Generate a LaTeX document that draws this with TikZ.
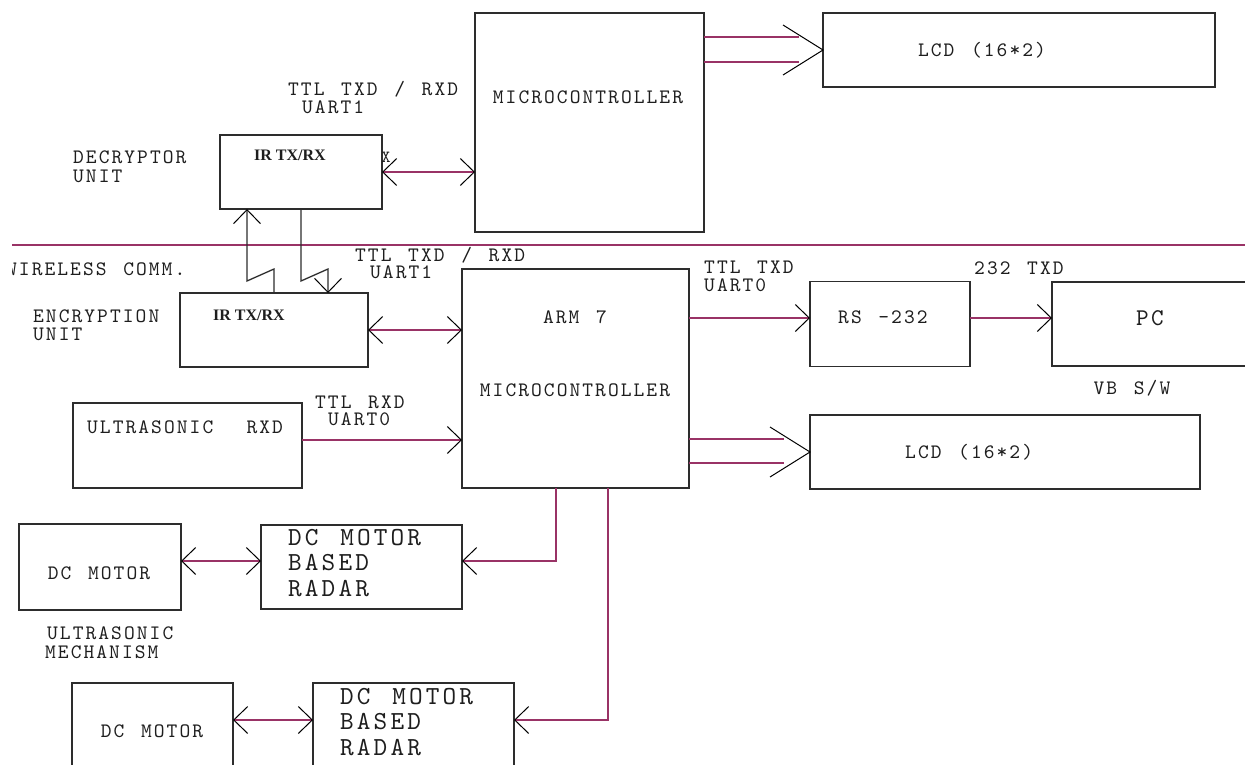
\documentclass[tikz,border=0pt]{standalone}
\usepackage{fontspec}
\usetikzlibrary{arrows.meta,calc}
\newfontfamily\cf{lmmono10-regular.otf}[LetterSpace=10,WordSpace=1.3]
\newfontfamily\cfr{lmmono10-regular.otf}[LetterSpace=12,WordSpace=1.3]
\newfontfamily\irf{Liberation Serif}
\definecolor{wirec}{RGB}{153,51,102}
\definecolor{boxc}{RGB}{45,45,45}
\definecolor{txtc}{RGB}{30,30,30}
\tikzset{
  box/.style={draw=boxc, line width=1.4pt, outer sep=0pt, inner sep=0pt, rectangle},
  txt/.style={font=\fontsize{20.5}{20.5}\cf, text=txtc, inner sep=0pt, text height=12.5pt, text depth=0pt},
  rtxt/.style={font=\fontsize{26}{25.5}\cfr, text=txtc, inner sep=0pt, align=left},
  irt/.style={font=\fontsize{16}{16}\irf\bfseries, text=txtc, inner sep=0pt},
  wire/.style={draw=wirec, line width=1.3pt},
  lead/.style={draw=boxc, line width=1.3pt},
  headline/.style={draw=black, line width=1pt},
  >={Straight Barb[length=14pt,width=27pt,color=black,line width=1pt]},
}
\begin{document}
\begin{tikzpicture}[x=1pt,y=-1pt]
\useasboundingbox (0,0) rectangle (1245,765);
% boxes
\node[box,minimum width=229pt,minimum height=219pt] (mc) at (589.5,122.5) {};
\node[box,minimum width=392pt,minimum height=74pt] (lcdA) at (1019,50) {};
\node[box,minimum width=162pt,minimum height=74pt] (dec) at (301,172) {};
\node[box,minimum width=188pt,minimum height=74pt] (enc) at (274,330) {};
\node[box,minimum width=227pt,minimum height=219pt] (arm) at (575.5,378.5) {};
\node[box,minimum width=229pt,minimum height=85pt] (us) at (187.5,445.5) {};
\node[box,minimum width=160pt,minimum height=85pt] (rs) at (890,324) {};
\node[box,minimum width=208pt,minimum height=84pt] (pc) at (1156,324) {};
\node[box,minimum width=390pt,minimum height=74pt] (lcdB) at (1005,452) {};
\node[box,minimum width=162pt,minimum height=86pt] (dcA) at (100,567) {};
\node[box,minimum width=201pt,minimum height=84pt] (radA) at (361.5,567) {};
\node[box,minimum width=161pt,minimum height=86pt] (dcB) at (152.5,726) {};
\node[box,minimum width=201pt,minimum height=86pt] (radB) at (413.5,726) {};
% separator
\coordinate (sepL) at (12,245);
\coordinate (sepR) at (1245,245);
\draw[wire] (sepL) -- (sepR);
% top microcontroller to LCD
\draw[wire] ([yshift=85.5pt]mc.east) -- ++(95,0);
\draw[wire] ([yshift=60.5pt]mc.east) -- ++(95,0);
\draw[headline] ([shift={(-40pt,25pt)}]lcdA.west) -- (lcdA.west) -- ([shift={(-40pt,-25pt)}]lcdA.west);
% decryptor <-> microcontroller
\draw[wire,<->] (dec.east) -- (dec.east -| mc.west);
% IR links
\draw[lead,->] ([xshift=94pt]enc.north west) -- ++(0,-24) -- ++(-27,12) -- ([xshift=27pt]dec.south west);
\draw[lead,->] ([xshift=81pt]dec.south west) -- ++(0,72) -- ++(27,-12) -- ([xshift=148pt]enc.north west);
% encryption <-> ARM
\draw[wire,<->] (enc.east) -- (enc.east -| arm.west);
% ultrasonic -> ARM
\coordinate (usO) at ([yshift=5.5pt]us.east);
\draw[wire,->] (usO) -- (usO -| arm.west);
% ARM -> RS232 -> PC
\coordinate (rsIn) at ([yshift=6pt]rs.west);
\draw[wire,->] (rsIn -| arm.east) -- (rsIn);
\coordinate (rsOut) at ([yshift=6pt]rs.east);
\draw[wire,->] (rsOut) -- (rsOut -| pc.west);
% ARM -> LCD
\draw[wire] ([yshift=-60.5pt]arm.east) -- ++(95,0);
\draw[wire] ([yshift=-84.5pt]arm.east) -- ++(95,0);
\draw[headline] ([shift={(-40pt,25pt)}]lcdB.west) -- (lcdB.west) -- ([shift={(-40pt,-25pt)}]lcdB.west);
% ARM -> radars
\coordinate (radAin) at ([yshift=6pt]radA.east);
\draw[wire,->] ([xshift=94pt]arm.south west) |- (radAin);
\coordinate (dcAo) at ([yshift=6pt]dcA.east);
\draw[wire,<->] (dcAo) -- (dcAo -| radA.west);
\coordinate (radBin) at ([yshift=6pt]radB.east);
\draw[wire,->] ([xshift=146pt]arm.south west) |- (radBin);
\coordinate (dcBo) at ([yshift=6pt]dcB.east);
\draw[wire,<->] (dcBo) -- (dcBo -| radB.west);
% labels
\node[txt,anchor=west] (l1) at (288,89) {TTL TXD / RXD};
\node[txt,anchor=west] (l2) at (302,107) {UART1};
\node[txt] (l3) at (588,97) {MICROCONTROLLER};
\node[txt] (l4) at (982,50) {LCD (16*2)};
\node[txt,anchor=west] (l5) at (73,157) {DECRYPTOR};
\node[txt,anchor=west] (l6) at (73,176) {UNIT};
\node[irt] (l7) at (290,155) {IR TX/RX};
\node[txt,font=\fontsize{17}{17}\cf,text height=10pt] (l8) at (386,158) {X};
\begin{scope}
\clip (12,0) rectangle (1245,765);
\node[txt,anchor=west] (l9) at (6,269) {WIRELESS COMM.};
\end{scope}
\node[txt,anchor=west] (l10) at (33,316) {ENCRYPTION};
\node[txt,anchor=west] (l11) at (33,334) {UNIT};
\node[irt] (l12) at (249,315) {IR TX/RX};
\node[txt,anchor=west] (l13) at (355,255) {TTL TXD / RXD};
\node[txt,anchor=west] (l14) at (370,272) {UART1};
\node[txt,anchor=west] (l15) at (87,427) {ULTRASONIC\ \ RXD};
\node[txt,anchor=west] (l16) at (315,402) {TTL RXD};
\node[txt,anchor=west] (l17) at (328,419) {UART0};
\node[txt] (l18) at (575,317) {ARM 7};
\node[txt] (l19) at (575,390) {MICROCONTROLLER};
\node[txt,anchor=west] (l20) at (704,267) {TTL TXD};
\node[txt,anchor=west] (l21) at (704,285) {UART0};
\node[txt,anchor=west] (l22) at (974,268) {232 TXD};
\node[txt,anchor=west] (l23) at (838,317) {RS -232};
\node[txt,font=\fontsize{24}{24}\cf,text height=14.5pt] (l24) at (1150,318) {PC};
\node[txt] (l25) at (1132,388) {VB S/W};
\node[txt,anchor=west] (l26) at (905,452) {LCD (16*2)};
\node[txt] (l27) at (99,573) {DC MOTOR};
\node[rtxt,anchor=west] (l28) at (288,563) {DC MOTOR\\BASED\\RADAR};
\node[txt,anchor=west] (l29) at (47,633) {ULTRASONIC};
\node[txt,anchor=west] (l30) at (45,652) {MECHANISM};
\node[txt] (l31) at (152,731) {DC MOTOR};
\node[rtxt,anchor=west] (l32) at (340,722) {DC MOTOR\\BASED\\RADAR};
\end{tikzpicture}
\end{document}
